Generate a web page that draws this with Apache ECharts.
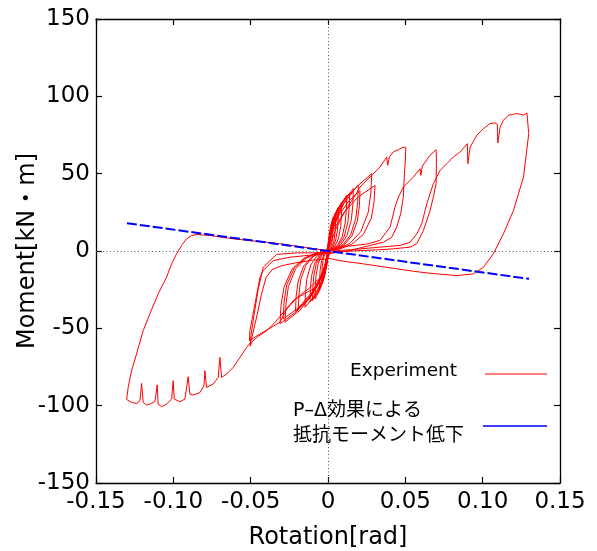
<!DOCTYPE html>
<html>
<head>
<meta charset="utf-8">
<script src="https://cdn.jsdelivr.net/npm/echarts@6/dist/echarts.min.js"></script>
<style>
  html, body { margin: 0; padding: 0; background: #fff; }
  #chart { width: 597px; height: 551px; }
</style>
</head>
<body>
<div id="chart"></div>
<script>
const FONT = '"DejaVu Sans", "Noto Sans CJK JP", sans-serif';

// Axis ranges and tick labels
const xRange = [-0.15, 0.15, 0.05];
const yRange = [-150, 150, 50];
const xTickLabels = ['-0.15', '-0.10', '-0.05', '0', '0.05', '0.10', '0.15'];
const yTickLabels = ['-150', '-100', '-50', '0', '50', '100', '150'];

// Small amplitude cycles (rotation [rad], moment [kN·m])
const smallCycles = [
  [0, 0],
  [0.0003, 6.6], [0.0012, 13.1], [0.0022, 18.2], [0.0034, 21.9], [0.0034, 16.4], [0.0031, 11], [0.0026, 5.5], [0.0017, 2.2], [0.0008, 0.7], [0, 0],
  [-0.0004, -6], [-0.0014, -12], [-0.0026, -16.6], [-0.004, -20], [-0.0039, -15], [-0.0037, -10], [-0.003, -5], [-0.002, -2], [-0.001, -0.6], [0, 0],
  [0.0005, 7.5], [0.0018, 15], [0.0033, 20.8], [0.005, 25], [0.0049, 18.8], [0.0046, 12.5], [0.0038, 6.3], [0.0025, 2.5], [0.0012, 0.8], [0, 0],
  [-0.0006, -7.5], [-0.0019, -15], [-0.0036, -20.8], [-0.0055, -25], [-0.0054, -18.8], [-0.0051, -12.5], [-0.0041, -6.3], [-0.0028, -2.5], [-0.0014, -0.8], [0, 0],
  [0.0007, 8.5], [0.0023, 17], [0.0044, 23.6], [0.0067, 28.4], [0.0066, 21.3], [0.0062, 14.2], [0.005, 7.1], [0.0034, 2.8], [0.0017, 0.9], [0, 0],
  [-0.0008, -9.3], [-0.0029, -18.6], [-0.0055, -25.7], [-0.0084, -31], [-0.0082, -23.3], [-0.0077, -15.5], [-0.0063, -7.8], [-0.0042, -3.1], [-0.0021, -0.9], [0, 0],
  [0.0009, 9.5], [0.0031, 19], [0.0058, 26.2], [0.0089, 31.6], [0.0087, 23.7], [0.0082, 15.8], [0.0067, 7.9], [0.0045, 3.2], [0.0022, 0.9], [0, 0],
  [-0.001, -9.6], [-0.0035, -19.2], [-0.0065, -26.6], [-0.010, -32], [-0.0098, -24], [-0.0092, -16], [-0.0075, -8], [-0.005, -3.2], [-0.0025, -1], [0, 0],
  [0.0012, 10.8], [0.0042, 21.6], [0.0079, 29.9], [0.0121, 36], [0.0119, 27], [0.0111, 18], [0.0091, 9], [0.0061, 3.6], [0.003, 1.1], [0, 0],
  [-0.0012, -9.9], [-0.0041, -19.8], [-0.0075, -27.4], [-0.0116, -33], [-0.0114, -24.8], [-0.0107, -16.5], [-0.0087, -8.3], [-0.0058, -3.3], [-0.0029, -1], [0, 0],
  [0.0014, 11.3], [0.0049, 22.5], [0.0091, 31.1], [0.014, 37.5], [0.0137, 28.1], [0.0129, 18.8], [0.0105, 9.4], [0.007, 3.8], [0.0035, 1.1], [0, 0],
  [-0.0015, -10.9], [-0.0052, -21.8], [-0.0097, -30.2], [-0.0149, -36.4], [-0.0146, -27.3], [-0.0137, -18.2], [-0.0112, -9.1], [-0.0075, -3.6], [-0.0037, -1.1], [0, 0],
  [0.0016, 12.1], [0.0057, 24.2], [0.0107, 33.4], [0.0164, 40.3], [0.0161, 30.2], [0.0151, 20.2], [0.0123, 10.1], [0.0082, 4], [0.0041, 1.2], [0, 0],
  [-0.0019, -11.2], [-0.0067, -22.4], [-0.0125, -31], [-0.0192, -37.4], [-0.0188, -28.1], [-0.0177, -18.7], [-0.0144, -9.4], [-0.0096, -3.7], [-0.0048, -1.1], [0, 0],
  [0.002, 12.7], [0.0069, 25.4], [0.0127, 35.2], [0.0196, 42.4], [0.0192, 31.8], [0.018, 21.2], [0.0147, 10.6], [0.0098, 4.2], [0.0049, 1.3], [0, 0],
  [-0.0021, -11.7], [-0.0074, -23.4], [-0.0137, -32.4], [-0.021, -39], [-0.0206, -29.3], [-0.0193, -19.5], [-0.0158, -9.8], [-0.0105, -3.9], [-0.0053, -1.2], [0, 0],
  [0.0021, 11.7], [0.0072, 23.4], [0.0135, 32.4], [0.0207, 39], [0.0203, 29.3], [0.019, 19.5], [0.0155, 9.8], [0.0104, 3.9], [0.0052, 1.2], [0, 0],
  [-0.0028, -13.8], [-0.0097, -27.6], [-0.0181, -38.2], [-0.0278, -46], [-0.0272, -34.5], [-0.0256, -23], [-0.0209, -11.5], [-0.0139, -4.6], [-0.007, -1.4], [0, 0],
  [0.0028, 15], [0.0099, 30], [0.0184, 41.5], [0.0283, 50], [0.0277, 37.5], [0.026, 25], [0.0212, 12.5], [0.0142, 5], [0.0071, 1.5], [0, 0],
  [-0.0031, -14.1], [-0.0109, -28.2], [-0.0202, -39], [-0.031, -47], [-0.0304, -35.3], [-0.0285, -23.5], [-0.0233, -11.8], [-0.0155, -4.7], [-0.0078, -1.4], [0, 0],
  [0.003, 12.7], [0.0106, 25.4], [0.0198, 35.2], [0.0304, 42.4], [0.0298, 31.8], [0.028, 21.2], [0.0228, 10.6], [0.0152, 4.2], [0.0076, 1.3], [0, 0],
  [-0.0029, -13.2], [-0.0102, -26.4], [-0.0189, -36.5], [-0.029, -44], [-0.0284, -33], [-0.0267, -22], [-0.0218, -11], [-0.0145, -4.4], [-0.0073, -1.3], [0, 0]
];

// +0.05 / -0.05 cycle
const cycle050 = [
  [0.002, 6], [0.005, 14], [0.009, 22], [0.013, 29], [0.017, 35], [0.0207, 41.3], [0.025, 45.7], [0.0304, 51],
  [0.0336, 54.3], [0.038, 60.8], [0.0386, 55.4], [0.0397, 60.8], [0.0422, 64], [0.0455, 65.5], [0.0487, 67.2], [0.0503, 67],
  [0.0500, 58], [0.0494, 50], [0.0487, 34.8], [0.047, 24.1], [0.0444, 15.4], [0.0412, 8.9], [0.0358, 5.7], [0.0272, 3.6],
  [0.0142, 0.3], [0.0013, -1.4], [-0.01, -1.2], [-0.0203, -1.2], [-0.0332, -2.2], [-0.0397, -8.3], [-0.0419, -10.5],
  [-0.0453, -25.6], [-0.0479, -41.8], [-0.0498, -54.7], [-0.0503, -61.5],
  [-0.049, -58.5], [-0.0455, -55.5], [-0.0397, -51.5], [-0.035, -47], [-0.0224, -32], [-0.015, -27.5], [-0.0073, -23.4],
  [-0.003, -14], [0, -3], [0.002, 1]
];

// +0.07 / -0.05 cycle
const cycle070 = [
  [0.012, 3], [0.025, 4.5], [0.0336, 6.8], [0.0401, 15.4], [0.0433, 28.3], [0.0455, 34.8], [0.0487, 41.3], [0.0552, 47.8],
  [0.0595, 53.2], [0.060, 48.9], [0.061, 54.9], [0.066, 61.9], [0.0699, 65.5],
  [0.0701, 60], [0.0699, 43.5], [0.0681, 34.8], [0.066, 26.2], [0.0617, 13.3], [0.0574, 4.7], [0.0531, 2.5], [0.0422, 1.4],
  [0.0336, 0.8], [0.0207, 0.3], [0.011, -0.3], [0, -1.6], [-0.0246, -4.0], [-0.0354, -6.2], [-0.0419, -12.6], [-0.044, -17],
  [-0.0472, -34.2], [-0.0505, -51.5], [-0.0508, -58],
  [-0.047, -55.5], [-0.042, -52.5], [-0.036, -49], [-0.031, -46], [-0.027, -38], [-0.02, -30], [-0.012, -24], [-0.005, -17],
  [-0.001, -6], [0.002, 0]
];

// +0.13 / -0.13 cycle and return
const cycle130 = [
  [0.0142, 0.8], [0.0336, 2.5], [0.0466, 3.6], [0.0531, 5.7], [0.0574, 11.1], [0.0606, 17.6], [0.0639, 30.6], [0.0681, 43.5],
  [0.0725, 52.1], [0.0768, 56.5], [0.0811, 60.8], [0.0854, 64.0], [0.0901, 69.4], [0.0904, 56.5], [0.0919, 67.2], [0.0962, 74.8],
  [0.1005, 79.1], [0.1048, 82.4], [0.1080, 82.8], [0.1095, 81.9], [0.1098, 69.8], [0.1113, 80.2], [0.1134, 84.5], [0.1167, 87.8],
  [0.1199, 88.4], [0.1221, 88.9], [0.1242, 88.4], [0.1264, 87.8], [0.1286, 89.3], [0.1296, 89.9],
  [0.1298, 75.9], [0.1264, 47.8], [0.1199, 26.2], [0.1134, 11.1], [0.1069, -1.8], [0.1005, -10.5], [0.0940, -14.8],
  [0.0833, -15.9], [0.066, -14.4], [0.0552, -13.1], [0.0444, -11.5], [0.0228, -8.3], [0.0078, -6.3], [0.0013, -4.9],
  [-0.01, -6], [-0.02, -7.5], [-0.03, -9.5], [-0.036, -12], [-0.04, -17], [-0.043, -28], [-0.046, -42], [-0.0485, -53],
  [-0.05, -59.1], [-0.0526, -62.3], [-0.0569, -68.8], [-0.0613, -75.3], [-0.0655, -79.5], [-0.0688, -81.7], [-0.0699, -68.8],
  [-0.0710, -81.7], [-0.0742, -86.0], [-0.0785, -88.2], [-0.0796, -77.4], [-0.0802, -87.1], [-0.0828, -91.5], [-0.0872, -93.1],
  [-0.0893, -92.5], [-0.0904, -81.3], [-0.0925, -95.7], [-0.0958, -97.5], [-0.0994, -95.7], [-0.1001, -83.9], [-0.1011, -95.7],
  [-0.1044, -99.0], [-0.1076, -100.7], [-0.1098, -99.0], [-0.1104, -86.5], [-0.1119, -97.3], [-0.1152, -99.0], [-0.1173, -99.6],
  [-0.1195, -97.9], [-0.1205, -85.6], [-0.1216, -96.8], [-0.1237, -98.6], [-0.1270, -97.9], [-0.1302, -96],
  [-0.1292, -88.2], [-0.1270, -77.4], [-0.1238, -66.6], [-0.1195, -51.5], [-0.1152, -40.7], [-0.1098, -27.7], [-0.1044, -17.0],
  [-0.1011, -8.3], [-0.0979, -1.8], [-0.0947, 3.6], [-0.0914, 7.9], [-0.0882, 10.0], [-0.0850, 10.7], [-0.0763, 10.0],
  [-0.0613, 7.9], [-0.0311, 4.7], [-0.015, 2.3], [0, 0.3]
];

// Moment reduction due to the P-Delta effect
const pDeltaLine = [[-0.13, 18], [0.13, -18]];

const seriesNames = ['Experiment', 'P–Δ効果による\n抵抗モーメント低下'];
const seriesColors = ['#ff0000', '#0000ff'];

const experiment = [].concat(smallCycles, cycle050, cycle070, cycle130);

function tickLabel(labels, range) {
  return function (v) {
    const i = Math.round((v - range[0]) / range[2]);
    return labels[i] !== undefined ? labels[i] : '';
  };
}

const axisLineStyle = { color: '#000', width: 1.3 };
const tickStyle = { inside: true, length: 6, lineStyle: { color: '#000', width: 1.2 } };

function xAxisDef(pos, main) {
  return {
    type: 'value', position: pos, min: xRange[0], max: xRange[1], interval: xRange[2],
    axisLine: { show: true, onZero: false, lineStyle: axisLineStyle },
    axisTick: tickStyle,
    splitLine: { show: false },
    axisLabel: main ? { show: true, formatter: tickLabel(xTickLabels, xRange), color: '#000', fontSize: 23, fontFamily: FONT, margin: 8 } : { show: false },
    name: main ? 'Rotation[rad]' : '',
    nameLocation: 'middle', nameGap: 43, nameMoveOverlap: false,
    nameTextStyle: { color: '#000', fontSize: 24, fontFamily: FONT }
  };
}
function yAxisDef(pos, main) {
  return {
    type: 'value', position: pos, min: yRange[0], max: yRange[1], interval: yRange[2],
    axisLine: { show: true, onZero: false, lineStyle: axisLineStyle },
    axisTick: tickStyle,
    splitLine: { show: false },
    axisLabel: main ? { show: true, formatter: tickLabel(yTickLabels, yRange), color: '#000', fontSize: 23, fontFamily: FONT, margin: 6 } : { show: false },
    name: main ? 'Moment[kN・m]' : '',
    nameLocation: 'middle', nameGap: 56, nameRotate: 90, nameMoveOverlap: false,
    nameTextStyle: { color: '#000', fontSize: 24, fontFamily: FONT }
  };
}

const chart = echarts.init(document.getElementById('chart'), null, { renderer: 'canvas' });
chart.setOption({
  animation: false,
  backgroundColor: '#fff',
  grid: { left: 96, right: 37, top: 19, bottom: 68, containLabel: false, outerBoundsMode: 'none' },
  xAxis: [xAxisDef('bottom', true), xAxisDef('top', false)],
  yAxis: [yAxisDef('left', true), yAxisDef('right', false)],
  series: [
    {
      name: seriesNames[0], type: 'line', data: experiment,
      showSymbol: false, symbol: 'none', smooth: false, z: 3,
      lineStyle: { color: seriesColors[0], width: 1 },
      markLine: {
        silent: true, symbol: 'none', label: { show: false },
        lineStyle: { color: '#555', type: [1, 2.5], width: 1 },
        data: [{ xAxis: 0 }, { yAxis: 0 }],
        z: 1
      }
    },
    {
      name: seriesNames[1], type: 'line', data: pDeltaLine,
      showSymbol: false, symbol: 'none', z: 4,
      lineStyle: { color: seriesColors[1], width: 2, type: [10, 3] }
    }
  ],
  graphic: [
    { type: 'text', z: 10, style: { x: 457, y: 371, text: seriesNames[0], textAlign: 'right', align: 'right', textVerticalAlign: 'middle', verticalAlign: 'middle', font: '18.5px ' + FONT, fill: '#000' } },
    { type: 'line', z: 10, shape: { x1: 485, y1: 374, x2: 547, y2: 374 }, style: { stroke: seriesColors[0], lineWidth: 1 } },
    { type: 'text', z: 10, style: { x: 293, y: 398.5, text: seriesNames[1], textAlign: 'left', align: 'left', textVerticalAlign: 'top', verticalAlign: 'top', lineHeight: 25, font: '19px ' + FONT, fill: '#000' } },
    { type: 'line', z: 10, shape: { x1: 483, y1: 426, x2: 547, y2: 426 }, style: { stroke: seriesColors[1], lineWidth: 1.5 } }
  ]
});
</script>
</body>
</html>
